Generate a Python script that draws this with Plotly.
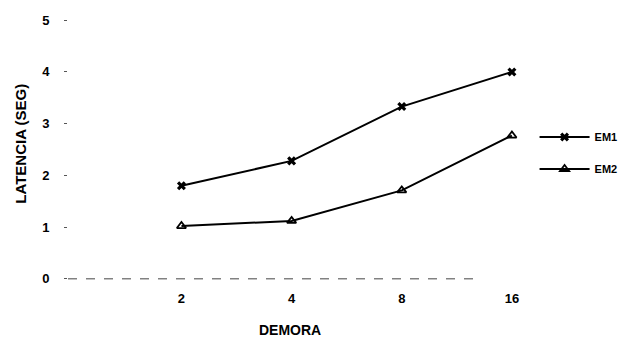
import plotly.graph_objects as go

categories = ["2", "4", "8", "16"]
em1 = [1.80, 2.28, 3.33, 4.00]
em2 = [1.02, 1.12, 1.71, 2.77]
y_ticks = [0, 1, 2, 3, 4, 5]

FONT = "Liberation Sans, Arial, sans-serif"

fig = go.Figure()
fig.add_trace(go.Scatter(
    x=categories, y=em1, name="EM1", mode="lines+markers", legendgroup="a",
    line=dict(color="black", width=2),
    marker=dict(symbol="x", size=8, color="black", line=dict(width=0)),
))
fig.add_trace(go.Scatter(
    x=categories, y=em2, name="EM2", mode="lines+markers", legendgroup="b",
    line=dict(color="black", width=2),
    marker=dict(symbol="triangle-up-open", size=8, color="black", line=dict(width=1.8, color="black")),
))

# broken baseline at zero
fig.add_shape(type="line", xref="x", yref="y", x0=-1.03, x1=2.7, y0=0, y1=0,
              line=dict(color="#444", width=1, dash="dash"))

fig.update_layout(
    width=624, height=338,
    margin=dict(l=68, r=57, t=15, b=54, autoexpand=False),
    paper_bgcolor="white", plot_bgcolor="white",
    font=dict(family=FONT, color="black", size=12),
    showlegend=True,
    legend=dict(x=0.935, y=0.487, xanchor="left", yanchor="middle",
                font=dict(family=FONT, size=11, color="black", weight="bold"),
                bgcolor="rgba(0,0,0,0)", itemwidth=50, tracegroupgap=13,
                traceorder="grouped"),
    xaxis=dict(type="category", range=[-1.03, 3.5], showgrid=False, zeroline=False,
               showline=False, ticks="", ticklabelstandoff=5,
               tickfont=dict(family=FONT, size=13, color="black", weight="bold")),
    yaxis=dict(range=[-0.1, 5.1], tickvals=y_ticks, showgrid=False, zeroline=False,
               showline=False, ticks="outside", ticklen=3, tickwidth=1, tickcolor="#555",
               ticklabelstandoff=12,
               tickfont=dict(family=FONT, size=13, color="black", weight="bold")),
    annotations=[
        dict(text="<b>LATENCIA (SEG)</b>", xref="paper", yref="paper", x=-0.095, y=0.52,
             xanchor="center", yanchor="middle", textangle=-90, showarrow=False,
             font=dict(family=FONT, size=15, color="black")),
        dict(text="<b>DEMORA</b>", xref="paper", yref="paper", x=0.445, y=-0.171,
             xanchor="center", yanchor="middle", showarrow=False,
             font=dict(family=FONT, size=14, color="black")),
    ],
)

fig.write_html("out.html")
